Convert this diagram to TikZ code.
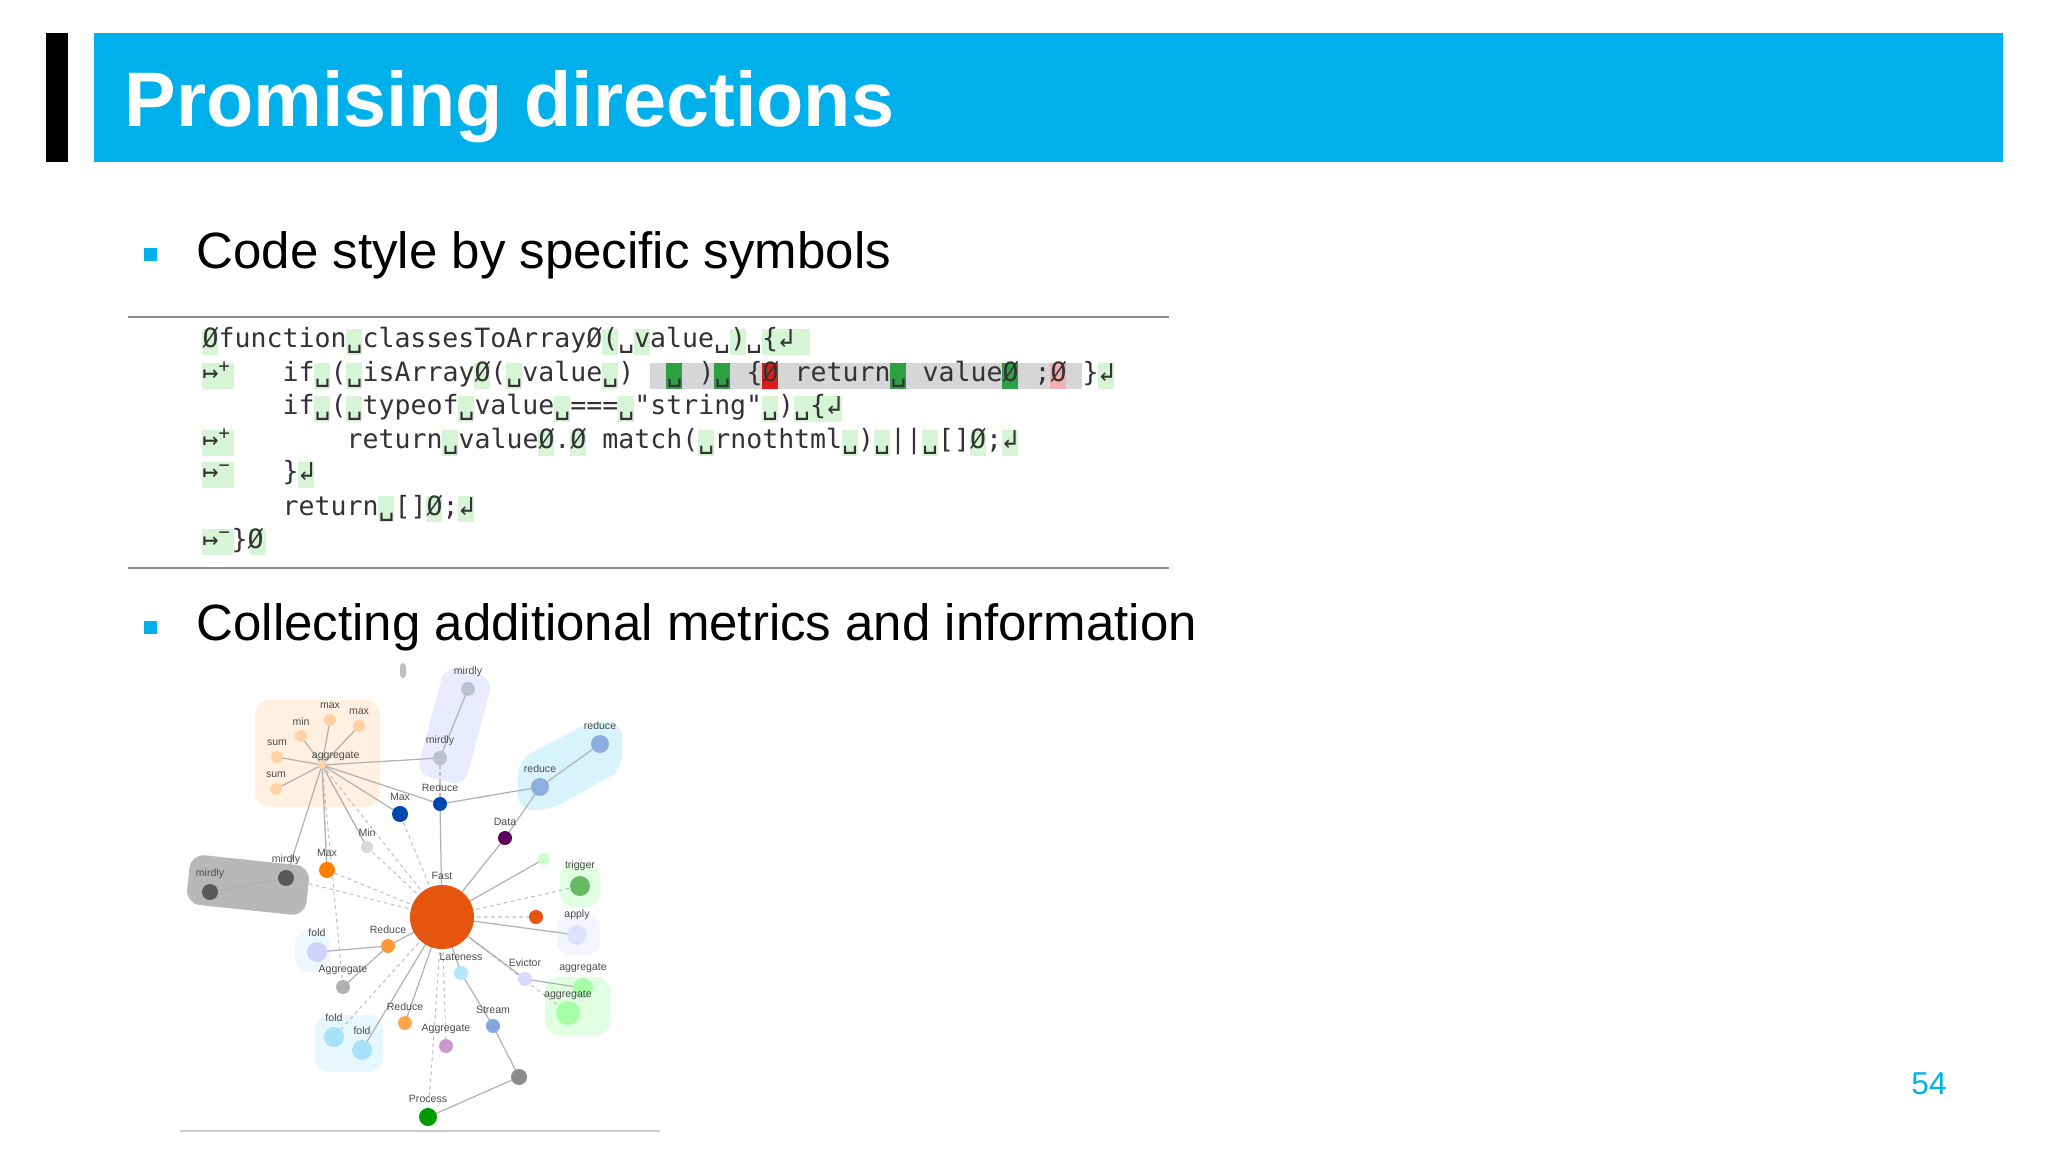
\documentclass[tikz,border=0pt]{standalone}
\usepackage{fontspec}
\setmainfont{Liberation Sans}
\newfontfamily\codefont{DejaVu Sans Mono}
\usetikzlibrary{calc,positioning}
\definecolor{banner}{HTML}{00B0EB}
\definecolor{hlg}{HTML}{D5F5D5}
\definecolor{dkg}{HTML}{2EA043}
\definecolor{hlgray}{HTML}{D6D6D6}
\definecolor{hlred}{HTML}{E01B1B}
\definecolor{hlpink}{HTML}{F4AFB4}
\definecolor{fastc}{HTML}{E6550D}
\tikzset{
  code/.style={inner sep=0pt,font=\codefont\fontsize{7.55}{8}\selectfont,text=black!80},
  bul/.style={fill=banner,minimum size=13*0.01cm,inner sep=0pt},
  btext/.style={anchor=west,font=\fontsize{14.5}{16}\selectfont,inner sep=0pt},
  gn/.style={circle,inner sep=0pt,minimum size=#1*0.02cm},
  gl/.style={font=\fontsize{3}{3}\selectfont,text=black!70,inner sep=0pt},
  sl/.style={draw=black!30,line width=0.35pt},
  dl/.style={draw=black!25,line width=0.3pt,dash pattern=on 1pt off 1pt},
  region/.style={rounded corners=4pt}
}
\newcommand\hlc[4]{\fill[#4] ({202+16*#2},{#1-13}) rectangle ({218+16*#3},{#1+13});}
\newcommand\tk[3]{\node[code,anchor=base west] at ({202+16*#2},{#1+6}) {#3};}
\begin{document}
\begin{tikzpicture}[x=0.01cm,y=-0.01cm]
\useasboundingbox (0,0) rectangle (2048,1152);
% header
\fill[black] (46,33) rectangle (68,162);
\fill[banner] (94,33) rectangle (2003,162);
\node[anchor=base west,text=white,font=\bfseries\fontsize{22}{24}\selectfont,inner sep=0pt] (title) at (124,127) {Promising directions};
% bullets
\node[bul] (b1) at (150,255) {};
\node[btext] (t1) at (196,255) {Code style by specific symbols};
\node[bul] (b2) at (150,627) {};
\node[btext] (t2) at (196,627) {Collecting additional metrics and information};
\node[text=banner,font=\fontsize{9}{10}\selectfont] (pg) at (1929,1084) {54};
% code block rules
\draw[black!45,line width=0.6pt] (128,317) -- (1169,317);
\draw[black!45,line width=0.6pt] (128,568) -- (1169,568);
% line 1
\foreach \c in {0,9,25,27,33,35,36,37} {\hlc{342}{\c}{\c}{hlg}}
\tk{342}{0}{Øfunction␣classesToArrayØ(␣value␣)␣\{↲}
% line 2
\foreach \c in {0,1,7,9,17,19,25,56} {\hlc{376}{\c}{\c}{hlg}}
\hlc{376}{28}{54}{hlgray}
\foreach \c in {29,32,43,50} {\hlc{376}{\c}{\c}{dkg}}
\hlc{376}{35}{35}{hlred}
\hlc{376}{53}{53}{hlpink}
\tk{376}{0}{↦\textsuperscript{+}}
\tk{376}{5}{if␣(␣isArrayØ(␣value␣)}
\tk{376}{29}{␣} \tk{376}{31}{)} \tk{376}{32}{␣} \tk{376}{34}{\{}
\tk{376}{35}{Ø} \tk{376}{37}{return} \tk{376}{43}{␣} \tk{376}{45}{value}
\tk{376}{50}{Ø} \tk{376}{52}{;} \tk{376}{53}{Ø} \tk{376}{55}{\}} \tk{376}{56}{↲}
% line 3
\foreach \c in {7,9,16,22,26,35,37,38,39} {\hlc{409}{\c}{\c}{hlg}}
\tk{409}{5}{if␣(␣typeof␣value␣===␣"string"␣)␣\{↲}
% line 4
\foreach \c in {0,1,15,21,23,31,40,42,45,48,50} {\hlc{443}{\c}{\c}{hlg}}
\tk{443}{0}{↦\textsuperscript{+}}
\tk{443}{9}{return␣valueØ.Ø match(␣rnothtml␣)␣||␣[]Ø;↲}
% line 5
\foreach \c in {0,1,6} {\hlc{475}{\c}{\c}{hlg}}
\tk{475}{0}{↦\textsuperscript{−}}
\tk{475}{5}{\}↲}
% line 6
\foreach \c in {11,14,16} {\hlc{509}{\c}{\c}{hlg}}
\tk{509}{5}{return␣[]Ø;↲}
% line 7
\foreach \c in {0,1,3} {\hlc{542}{\c}{\c}{hlg}}
\tk{542}{0}{↦\textsuperscript{−}\}Ø}
% ---- graph ----
\draw[black!20,line width=0.5pt] (180,1131) -- (660,1131);
\fill[black!25,rounded corners=1pt] (400,663) rectangle (406,678);
% regions
\fill[orange!12,region] (255,700) rectangle (380,807);
\fill[blue!8!white,region,rotate around={-15:(455,725)}] (430,670) rectangle (480,782);
\fill[cyan!15,region] (518,760) -- (590,722) -- (622,722) -- (622,770) -- (550,810) -- (518,810) -- cycle;
\fill[black!28,region,rotate around={-6:(248,885)}] (188,860) rectangle (308,910);
\fill[green!12,region] (560,863) rectangle (600,907);
\fill[blue!4,region] (557,913) rectangle (600,955);
\fill[cyan!8,region] (295,930) rectangle (330,972);
\fill[green!12,region] (545,977) rectangle (610,1035);
\fill[cyan!10,region] (315,1015) rectangle (383,1072);
\coordinate (Fc) at (442,917);
\coordinate (hub) at (322,765);
% edges
\draw[dl] (hub) -- (Fc);
\draw[dl] (hub) -- (367,847) (hub) -- (327,870) (hub) -- (343,987);
\draw[sl] (hub) -- (330,720) (hub) -- (359,726) (hub) -- (301,736) (hub) -- (277,757) (hub) -- (276,789);
\draw[sl] (hub) -- (440,758) (hub) -- (400,814) (hub) -- (440,804) (hub) -- (367,847) (hub) -- (327,870) (hub) -- (286,878);
\draw[sl] (468,689) -- (440,758);
\draw[dl] (440,758) -- (440,804);
\draw[sl] (440,804) -- (540,787) -- (600,744);
\draw[sl] (540,787) -- (505,838);
\draw[sl] (286,878) -- (210,892);
\draw[sl] (Fc) -- (440,804) (Fc) -- (505,838) (Fc) -- (544,859) (Fc) -- (577,935);
\draw[dl] (Fc) -- (400,814) (Fc) -- (367,847) (Fc) -- (327,870) (Fc) -- (286,878) (Fc) -- (580,886) (Fc) -- (536,917) (Fc) -- (525,979) (Fc) -- (568,1013) (Fc) -- (446,1046) (Fc) -- (428,1117) (Fc) -- (334,1037);
\draw[sl] (Fc) -- (388,946) -- (317,952);
\draw[sl] (388,946) -- (343,987);
\draw[sl] (Fc) -- (362,1050) (Fc) -- (405,1023) (Fc) -- (461,973) (Fc) -- (525,979) -- (583,988);
\draw[sl] (461,973) -- (493,1026) -- (519,1077) -- (428,1117);
% nodes
\node[gn=32,fill=fastc] (fast) at (Fc) {};
\node[gl,above=1pt of fast] (lfast) {Fast};
\node[gn=4,fill=orange!35] (agg) at (hub) {};
\node[gl,above right=0pt and -4pt of agg] (lagg) {aggregate};
\foreach \n/\p/\l in {mx1/{(330,720)}/max,mx2/{(359,726)}/max,mn1/{(301,736)}/min,sm1/{(277,757)}/sum,sm2/{(276,789)}/sum}{
  \node[gn=6,fill=orange!35] (\n) at \p {};
  \node[gl,above=1pt of \n] {\l};}
\node[gn=7,fill=blue!25!black!25] (md1) at (468,689) {}; \node[gl,above=1pt of md1] (lmd1) {mirdly};
\node[gn=7,fill=blue!25!black!25] (md2) at (440,758) {}; \node[gl,above=1pt of md2] (lmd2) {mirdly};
\node[gn=9,fill=cyan!50!blue!45] (rd1) at (600,744) {}; \node[gl,above=1pt of rd1] (lrd1) {reduce};
\node[gn=9,fill=cyan!50!blue!45] (rd2) at (540,787) {}; \node[gl,above=1pt of rd2] (lrd2) {reduce};
\node[gn=7,fill=blue!60!cyan!70!black] (Rd) at (440,804) {}; \node[gl,above=1pt of Rd] (lRd) {Reduce};
\node[gn=8,fill=blue!60!cyan!70!black] (Mx) at (400,814) {}; \node[gl,above=1pt of Mx] (lMx) {Max};
\node[gn=7,fill=violet!70!black] (Dt) at (505,838) {}; \node[gl,above=1pt of Dt] (lDt) {Data};
\node[gn=6,fill=black!15] (Mn) at (367,847) {}; \node[gl,above=1pt of Mn] (lMn) {Min};
\node[gn=8,fill=orange] (Mxo) at (327,870) {}; \node[gl,above=1pt of Mxo] (lMxo) {Max};
\node[gn=8,fill=black!65] (gm1) at (286,878) {}; \node[gl,above=1pt of gm1] (lgm1) {mirdly};
\node[gn=8,fill=black!65] (gm2) at (210,892) {}; \node[gl,above=1pt of gm2] (lgm2) {mirdly};
\node[gn=6,fill=green!20] (sg) at (544,859) {};
\node[gn=10,fill=green!55!black!60] (trg) at (580,886) {}; \node[gl,above=1pt of trg] (ltrg) {trigger};
\node[gn=7,fill=fastc] (orr) at (536,917) {};
\node[gn=10,fill=blue!12] (apl) at (577,935) {}; \node[gl,above=1pt of apl] (lapl) {apply};
\node[gn=10,fill=blue!18] (fd1) at (317,952) {}; \node[gl,above=1pt of fd1] (lfd1) {fold};
\node[gn=7,fill=orange!80] (Ro) at (388,946) {}; \node[gl,above=1pt of Ro] (lRo) {Reduce};
\node[gn=7,fill=black!30] (Ag) at (343,987) {}; \node[gl,above=1pt of Ag] (lAg) {Aggregate};
\node[gn=7,fill=cyan!30] (Lt) at (461,973) {}; \node[gl,above=1pt of Lt] (lLt) {Lateness};
\node[gn=7,fill=blue!15] (Ev) at (525,979) {}; \node[gl,above=1pt of Ev] (lEv) {Evictor};
\node[gn=10,fill=green!35] (ag1) at (583,988) {}; \node[gl,above=1pt of ag1] (lag1) {aggregate};
\node[gn=12,fill=green!35] (ag2) at (568,1013) {}; \node[gl,above=0pt of ag2] (lag2) {aggregate};
\node[gn=10,fill=cyan!35] (fd2) at (334,1037) {}; \node[gl,above=1pt of fd2] (lfd2) {fold};
\node[gn=10,fill=cyan!35] (fd3) at (362,1050) {}; \node[gl,above=1pt of fd3] (lfd3) {fold};
\node[gn=7,fill=orange!70] (Ro2) at (405,1023) {}; \node[gl,above=1pt of Ro2] (lRo2) {Reduce};
\node[gn=7,fill=violet!40] (Agp) at (446,1046) {}; \node[gl,above=1pt of Agp] (lAgp) {Aggregate};
\node[gn=7,fill=cyan!50!blue!50] (St) at (493,1026) {}; \node[gl,above=1pt of St] (lSt) {Stream};
\node[gn=8,fill=black!45] (gy) at (519,1077) {};
\node[gn=9,fill=green!60!black] (Pr) at (428,1117) {}; \node[gl,above=1pt of Pr] (lPr) {Process};
\end{tikzpicture}
\end{document}
